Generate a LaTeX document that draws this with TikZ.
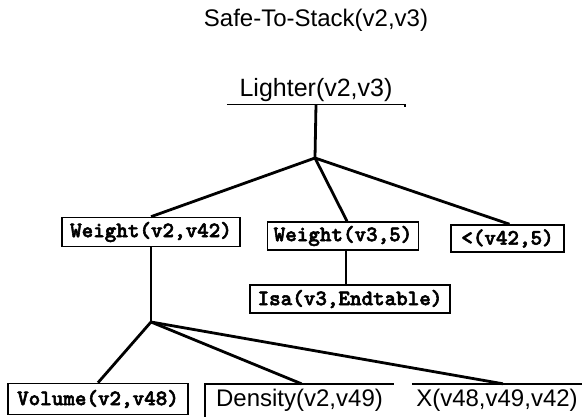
\documentclass[tikz,border=0pt]{standalone}
\usepackage{fontspec}
\setmainfont{Liberation Sans}
\newfontfamily\termfont[FakeBold=2.5]{lmmonolt10-bold.otf}
\begin{document}
\begin{tikzpicture}[x=1pt,y=-1pt,
  sanslabel/.style={font=\fontsize{24}{28}\selectfont, inner sep=0pt},
  termbox/.style={draw, line width=1.6pt, inner sep=0pt,
    font=\termfont\fontsize{22}{26}\selectfont},
  branch/.style={line width=2.8pt},
  stem/.style={line width=2.2pt},
  rule/.style={line width=1.6pt},
]
\useasboundingbox (0,0) rectangle (582,417);

% goal and its explanation root
\node[sanslabel] (title) at (316,20) {Safe-To-Stack(v2,v3)};
\node[sanslabel, font=\fontsize{25}{29}\selectfont, anchor=base, minimum width=178pt, inner ysep=2pt] (lighter) at (316,97) {Lighter(v2,v3)};
\coordinate (j1) at (315,158);

% first level of the proof tree
\node[termbox, minimum width=178pt, minimum height=29pt] (w1) at (151,232) {Weight(v2,v42)};
\node[termbox, minimum width=151pt, minimum height=28pt] (w2) at (343,236) {Weight(v3,5)};
\node[termbox, minimum width=113pt, minimum height=27pt] (lt) at (507.5,238.5) {<(v42,5)};
\node[termbox, minimum width=200pt, minimum height=28pt] (isa) at (350,299) {Isa(v3,Endtable)};
\coordinate (j2) at (151,322);

% second level
\node[termbox, minimum width=180pt, minimum height=31pt] (vol) at (98,399) {Volume(v2,v48)};
\node[sanslabel, minimum width=189pt, minimum height=33pt] (dens) at (299.5,400.5) {Density(v2,v49)};
\node[sanslabel, minimum width=170pt, minimum height=33pt] (xn) at (497,400.5) {X(v48,v49,v42)};

% underline of the root and open frames
\draw[rule] (lighter.south west) -- (lighter.south east) -- ++(0,3);
\draw[rule] (dens.south west) -- (dens.north west) -- (dens.north east);
\draw[rule] (xn.north west) -- (xn.north east);

% connectors
\draw[branch] (lighter.south) -- (j1);
\draw[branch] (j1) -- (w1.north);
\draw[branch] (j1) -- ([xshift=4pt]w2.north);
\draw[branch] (j1) -- ([xshift=2pt]lt.north);
\draw[stem] (w1.south) -- (j2);
\draw[stem] ([xshift=3pt]w2.south) -- ([xshift=3pt]w2.south |- isa.north);
\draw[branch] (j2) -- (vol.north);
\draw[branch] (j2) -- ([xshift=2pt]dens.north);
\draw[branch] (j2) -- ([xshift=6pt]xn.north);
\end{tikzpicture}
\end{document}
